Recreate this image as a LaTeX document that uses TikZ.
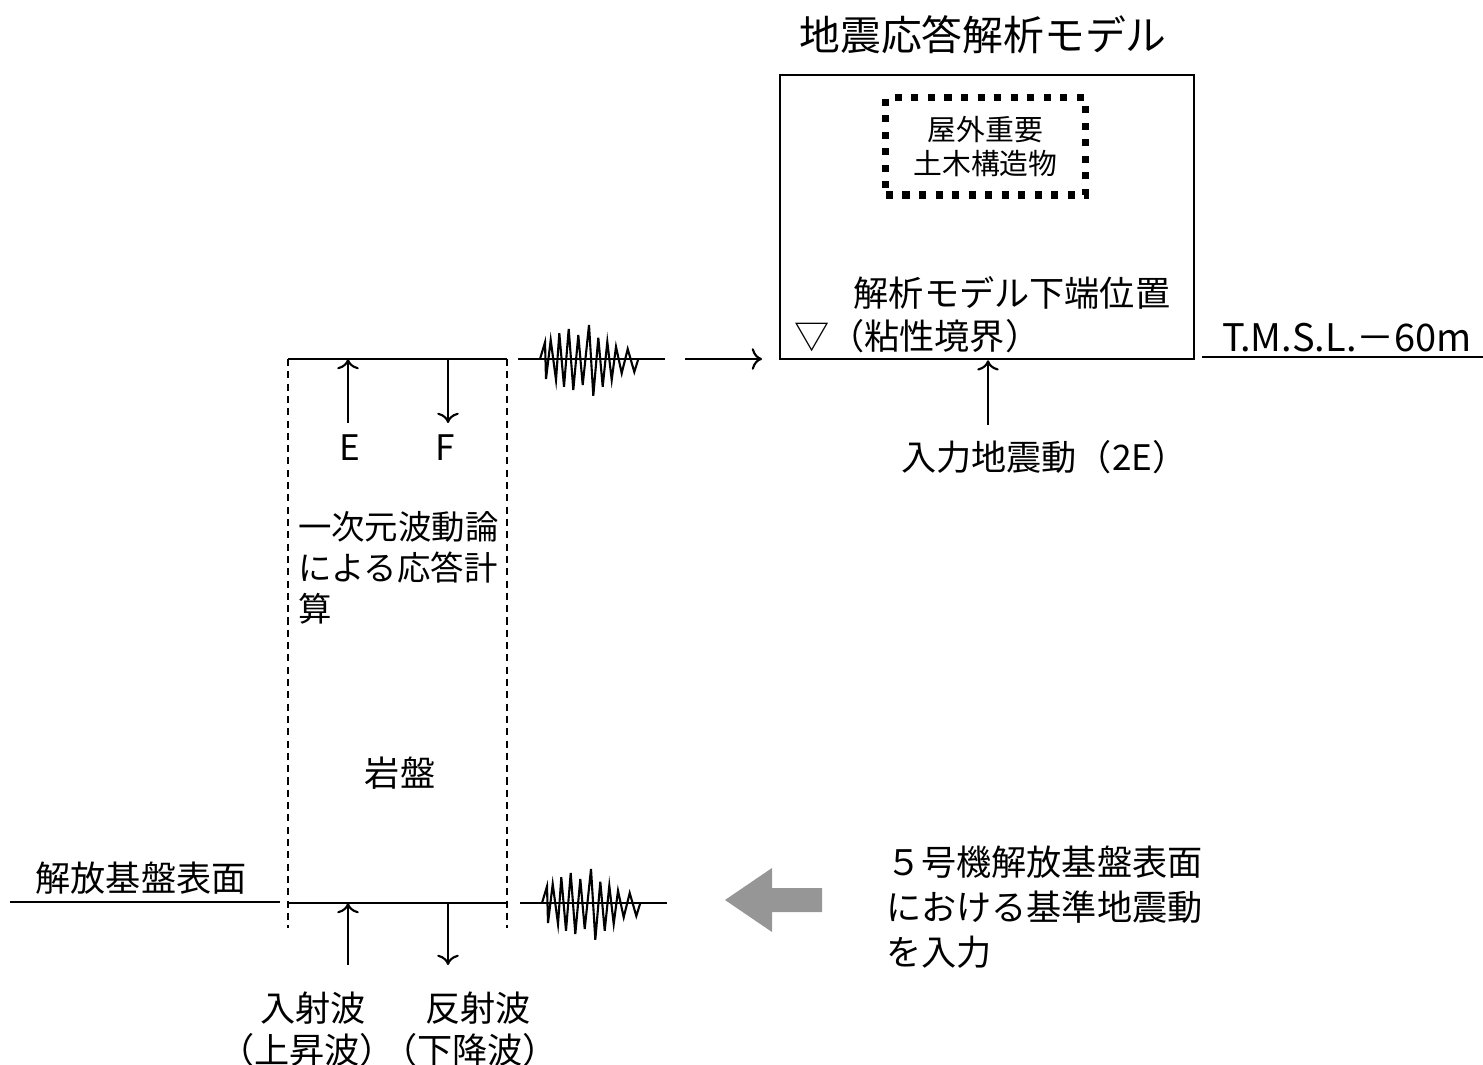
\documentclass[tikz,border=0pt]{standalone}
\usepackage{fontspec}
\setmainfont{Noto Sans CJK JP}
\usetikzlibrary{positioning, calc, arrows.meta}

\definecolor{arrowgray}{RGB}{150,150,150}

\tikzset{
  lbl/.style={inner sep=0pt, font=\fontsize{10}{12}\selectfont},
  wall/.style={dash pattern=on 2pt off 1.5pt},
  civilbox/.style={draw, line width=2pt, dash pattern=on 2pt off 2.7pt,
    minimum width=1.99cm, minimum height=0.97cm, inner sep=0pt, align=center,
    font=\fontsize{8.2}{9.9}\selectfont},
  wavelet/.pic={
    \draw plot coordinates {(0,0) (5,-16.7) (6,20) (10.7,-19) (16,21) (19.3,-25.7)
      (24,27.7) (28.7,-30) (33.3,31) (38.3,-24) (42.7,26) (49,-34) (53.3,36.7)
      (58.3,-21.3) (62.7,27.7) (67.3,-17.3) (71.7,21) (76,-12.3) (81.7,14.3)
      (87.7,-10) (94.3,13) (98.3,0)};
  }
}

\begin{document}
\begin{tikzpicture}[x=0.01cm, y=-0.01cm, line width=0.6pt]
    \useasboundingbox (0,0) rectangle (1483,1065);

    % 解析モデル
    \node[lbl, font=\fontsize{11.6}{14}\selectfont] (title) at (983,35) {地震応答解析モデル};
    \node[draw, minimum width=4.14cm, minimum height=2.84cm, anchor=north west] (model) at (779,74) {};
    \node[civilbox] (civil) at (985.5,146.5) {屋外重要\\土木構造物};
    \node[lbl] (bottomlbl) at (1012,293) {解析モデル下端位置};
    \node[lbl, anchor=west] (boundary) at (793,336) {▽（粘性境界）};

    % 基準レベル
    \coordinate (lvl1) at (1202,357);
    \coordinate (lvl2) at (1483,357);
    \draw (lvl1) -- (lvl2);
    \node[lbl, font=\fontsize{10.8}{13}\selectfont] (level) at (1347,338) {T.M.S.L.－60m};

    % 入力地震動
    \node[lbl, anchor=west] (input) at (900,457) {入力地震動（2E）};
    \coordinate (inp) at (988,425);
    \draw[->] (inp) -- (inp |- model.south);

    % 一次元波動論の柱
    \coordinate (ctl) at (288,359);
    \coordinate (ctr) at (507,359);
    \coordinate (cbl) at (288,903);
    \coordinate (cbr) at (507,903);
    \coordinate (dl) at (288,928);
    \coordinate (dr) at (507,928);
    \draw (ctl) -- (ctr);
    \draw (cbl) -- (cbr);
    \draw[wall] (ctl) -- (dl);
    \draw[wall] (ctr) -- (dr);

    % E と F
    \node[lbl] (E) at (350,448) {E};
    \node[lbl] (F) at (445,448) {F};
    \coordinate (eup) at (348,423);
    \coordinate (fdn) at (448,423);
    \draw[->] (eup) -- (eup |- ctl);
    \draw[->] (fdn |- ctl) -- (fdn);

    \node[lbl, anchor=west, align=left, font=\fontsize{9.5}{11.6}\selectfont] (theory) at (297,568)
        {一次元波動論\\による応答計\\算};
    \node[lbl] (rock) at (400,773) {岩盤};

    % 解放基盤表面
    \coordinate (sf1) at (10,902);
    \coordinate (sf2) at (280,902);
    \draw (sf1) -- (sf2);
    \node[lbl] (surface) at (141,878) {解放基盤表面};

    % 波形
    \coordinate (w1a) at (518,359);
    \coordinate (w1b) at (665,359);
    \draw (w1a) -- (w1b);
    \pic at (540,359) {wavelet};
    \coordinate (a1) at (685,359);
    \coordinate (a2) at (762,359);
    \draw[->] (a1) -- (a2);

    \coordinate (w2a) at (520,903);
    \coordinate (w2b) at (667,903);
    \draw (w2a) -- (w2b);
    \pic at (542,903) {wavelet};

    % 入射波・反射波
    \coordinate (inc) at (348,965);
    \coordinate (ref) at (448,965);
    \draw[->] (inc) -- (inc |- cbl);
    \draw[->] (ref |- cbl) -- (ref);
    \node[lbl] (incident) at (313,1008) {入射波};
    \node[lbl] (incident2) at (307,1050) {\kern-.2em（上昇波）\kern-.2em};
    \node[lbl] (reflect) at (478,1008) {反射波};
    \node[lbl] (reflect2) at (470,1050) {\kern-.2em（下降波）\kern-.2em};

    % 灰色の矢印
    \fill[arrowgray] (822,888) -- (772,888) -- (772,868) -- (725,900)
        -- (772,932) -- (772,912) -- (822,912) -- cycle;
    \node[lbl, anchor=west, align=left, font=\fontsize{10}{12.8}\selectfont] (unit5) at (885,907)
        {５号機解放基盤表面\\における基準地震動\\を入力};

\end{tikzpicture}
\end{document}
